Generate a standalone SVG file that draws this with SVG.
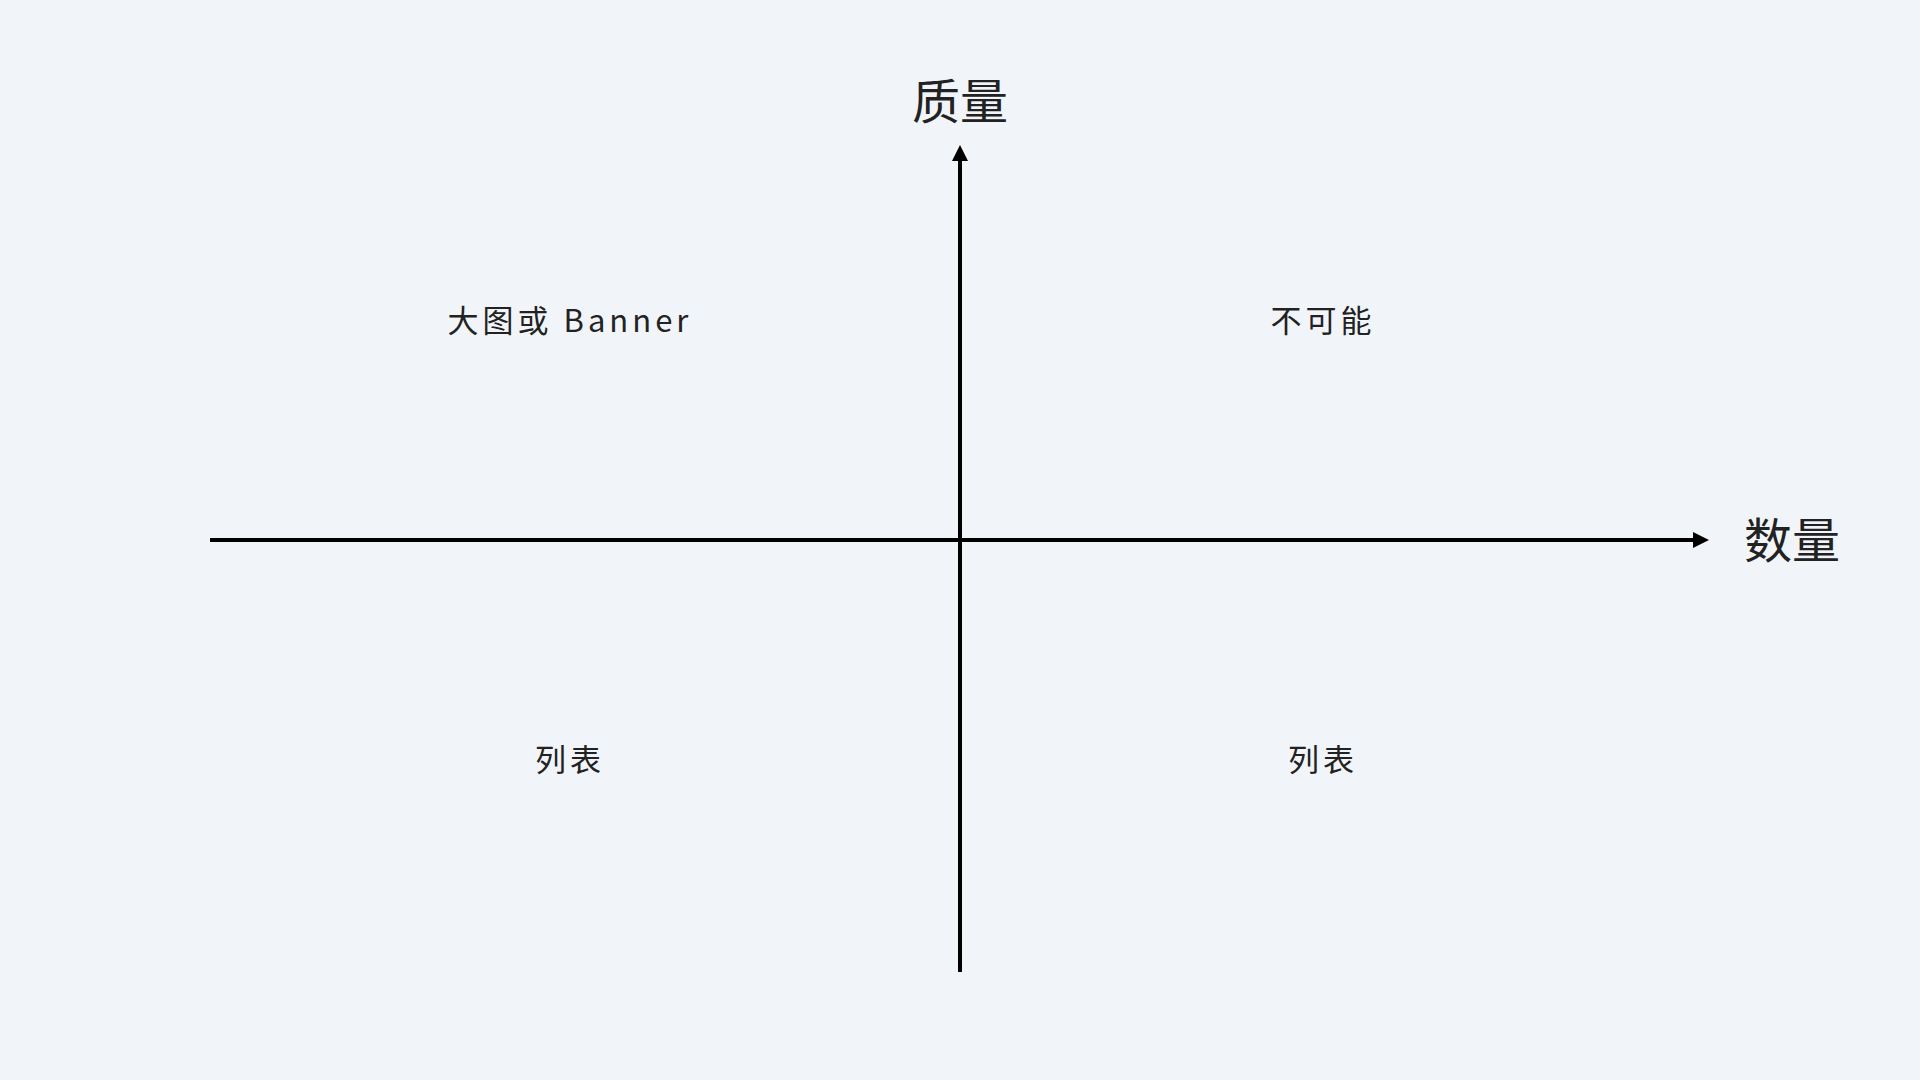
<svg xmlns="http://www.w3.org/2000/svg" width="1920" height="1080" viewBox="0 0 1920 1080">
  <defs>
    <marker id="arrow" markerUnits="userSpaceOnUse" markerWidth="16" markerHeight="16" viewBox="0 0 16 16" refX="0" refY="8" orient="auto">
      <path d="M0,0 L16,8 L0,16 Z" fill="#000"/>
    </marker>
    <style>
      .axis { stroke: #000; stroke-width: 4; fill: none; }
      .title { font-family: "Noto Sans CJK SC", "Noto Sans", sans-serif; font-size: 48px; fill: #222; text-anchor: middle; }
      .label { font-family: "Noto Sans CJK SC", "Noto Sans", sans-serif; font-size: 31px; fill: #222; text-anchor: middle; letter-spacing: 4px; }
    </style>
  </defs>
  <rect width="1920" height="1080" fill="#f1f5f9"/>
  <g id="connectors">
    <line class="axis" x1="210" y1="540" x2="1693" y2="540" marker-end="url(#arrow)"/>
    <line class="axis" x1="960" y1="972" x2="960" y2="161" marker-end="url(#arrow)"/>
  </g>
  <g id="axis-y-label"><text class="title" x="960" y="119">质量</text></g>
  <g id="axis-x-label"><text class="title" x="1792" y="558">数量</text></g>
  <g id="q-top-left"><text class="label" x="570" y="332">大图或 Banner</text></g>
  <g id="q-top-right"><text class="label" x="1323" y="332">不可能</text></g>
  <g id="q-bottom-left"><text class="label" x="570" y="771">列表</text></g>
  <g id="q-bottom-right"><text class="label" x="1323" y="771">列表</text></g>
</svg>
